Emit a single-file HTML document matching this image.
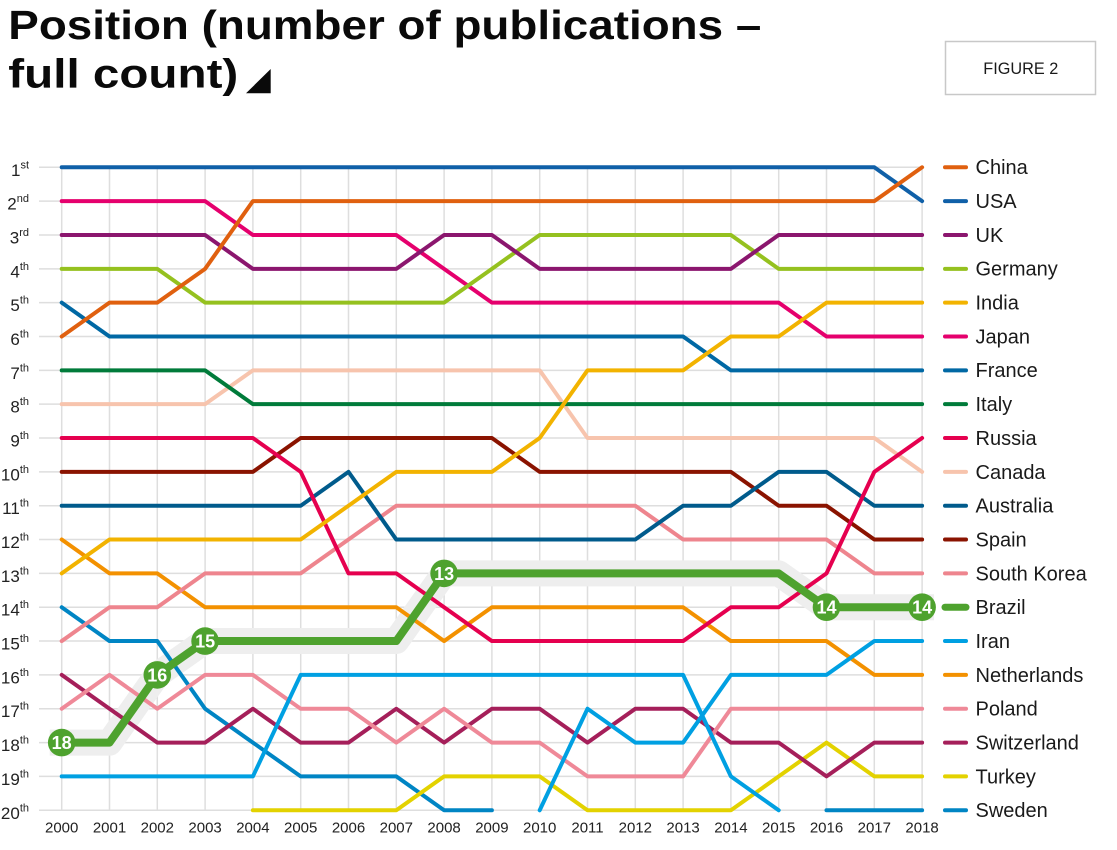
<!DOCTYPE html>
<html>
<head>
<meta charset="utf-8">
<style>
html,body{margin:0;padding:0;background:#fff;}
svg{display:block;}
text{font-family:"Liberation Sans",sans-serif;}
.s{fill:none;stroke-width:4;stroke-linejoin:round;stroke-linecap:round;vector-effect:non-scaling-stroke;}
</style>
</head>
<body>
<svg width="1117" height="850" viewBox="0 0 1117 850" xmlns="http://www.w3.org/2000/svg">
<rect width="1117" height="850" fill="#fff"/>
<!-- Title -->
<text x="8.3" y="39" font-size="41" font-weight="bold" fill="#0a0a0a" textLength="753" lengthAdjust="spacingAndGlyphs">Position (number of publications –</text>
<text x="8.3" y="87.3" font-size="41" font-weight="bold" fill="#0a0a0a" textLength="230" lengthAdjust="spacingAndGlyphs">full count)</text>
<polygon points="246,93.3 270.7,93.3 270.7,69" fill="#0a0a0a"/>
<!-- Figure box -->
<rect x="945.5" y="41.5" width="150" height="53" fill="none" stroke="#c8c8c8" stroke-width="1.5"/>
<text x="1020.8" y="74" font-size="17" fill="#1a1a1a" text-anchor="middle" textLength="75" lengthAdjust="spacingAndGlyphs">FIGURE 2</text>

<!-- Grid -->
<g stroke="#dedede" stroke-width="1.5">
<line x1="39" y1="167.3" x2="922.5" y2="167.3"/>
<line x1="39" y1="201.14" x2="922.5" y2="201.14"/>
<line x1="39" y1="234.98" x2="922.5" y2="234.98"/>
<line x1="39" y1="268.82" x2="922.5" y2="268.82"/>
<line x1="39" y1="302.66" x2="922.5" y2="302.66"/>
<line x1="39" y1="336.5" x2="922.5" y2="336.5"/>
<line x1="39" y1="370.34" x2="922.5" y2="370.34"/>
<line x1="39" y1="404.18" x2="922.5" y2="404.18"/>
<line x1="39" y1="438.02" x2="922.5" y2="438.02"/>
<line x1="39" y1="471.86" x2="922.5" y2="471.86"/>
<line x1="39" y1="505.7" x2="922.5" y2="505.7"/>
<line x1="39" y1="539.54" x2="922.5" y2="539.54"/>
<line x1="39" y1="573.38" x2="922.5" y2="573.38"/>
<line x1="39" y1="607.22" x2="922.5" y2="607.22"/>
<line x1="39" y1="641.06" x2="922.5" y2="641.06"/>
<line x1="39" y1="674.9" x2="922.5" y2="674.9"/>
<line x1="39" y1="708.74" x2="922.5" y2="708.74"/>
<line x1="39" y1="742.58" x2="922.5" y2="742.58"/>
<line x1="39" y1="776.42" x2="922.5" y2="776.42"/>
<line x1="39" y1="810.26" x2="922.5" y2="810.26"/>
<line x1="61.7" y1="167.3" x2="61.7" y2="810.3"/>
<line x1="109.5" y1="167.3" x2="109.5" y2="810.3"/>
<line x1="157.3" y1="167.3" x2="157.3" y2="810.3"/>
<line x1="205.1" y1="167.3" x2="205.1" y2="810.3"/>
<line x1="252.9" y1="167.3" x2="252.9" y2="810.3"/>
<line x1="300.7" y1="167.3" x2="300.7" y2="810.3"/>
<line x1="348.5" y1="167.3" x2="348.5" y2="810.3"/>
<line x1="396.3" y1="167.3" x2="396.3" y2="810.3"/>
<line x1="444.1" y1="167.3" x2="444.1" y2="810.3"/>
<line x1="491.9" y1="167.3" x2="491.9" y2="810.3"/>
<line x1="539.7" y1="167.3" x2="539.7" y2="810.3"/>
<line x1="587.5" y1="167.3" x2="587.5" y2="810.3"/>
<line x1="635.3" y1="167.3" x2="635.3" y2="810.3"/>
<line x1="683.1" y1="167.3" x2="683.1" y2="810.3"/>
<line x1="730.9" y1="167.3" x2="730.9" y2="810.3"/>
<line x1="778.7" y1="167.3" x2="778.7" y2="810.3"/>
<line x1="826.5" y1="167.3" x2="826.5" y2="810.3"/>
<line x1="874.3" y1="167.3" x2="874.3" y2="810.3"/>
<line x1="922.1" y1="167.3" x2="922.1" y2="810.3"/>
</g>

<!-- Y axis labels -->
<g font-size="17" fill="#222" text-anchor="end">
<text x="29" y="175.8">1<tspan font-size="11" dy="-7.5">st</tspan></text>
<text x="29" y="209.6">2<tspan font-size="11" dy="-7.5">nd</tspan></text>
<text x="29" y="243.5">3<tspan font-size="11" dy="-7.5">rd</tspan></text>
<text x="29" y="277.3">4<tspan font-size="11" dy="-7.5">th</tspan></text>
<text x="29" y="311.2">5<tspan font-size="11" dy="-7.5">th</tspan></text>
<text x="29" y="345">6<tspan font-size="11" dy="-7.5">th</tspan></text>
<text x="29" y="378.8">7<tspan font-size="11" dy="-7.5">th</tspan></text>
<text x="29" y="412.7">8<tspan font-size="11" dy="-7.5">th</tspan></text>
<text x="29" y="446.5">9<tspan font-size="11" dy="-7.5">th</tspan></text>
<text x="29" y="480.4">10<tspan font-size="11" dy="-7.5">th</tspan></text>
<text x="29" y="514.2">11<tspan font-size="11" dy="-7.5">th</tspan></text>
<text x="29" y="548">12<tspan font-size="11" dy="-7.5">th</tspan></text>
<text x="29" y="581.9">13<tspan font-size="11" dy="-7.5">th</tspan></text>
<text x="29" y="615.7">14<tspan font-size="11" dy="-7.5">th</tspan></text>
<text x="29" y="649.6">15<tspan font-size="11" dy="-7.5">th</tspan></text>
<text x="29" y="683.4">16<tspan font-size="11" dy="-7.5">th</tspan></text>
<text x="29" y="717.2">17<tspan font-size="11" dy="-7.5">th</tspan></text>
<text x="29" y="751.1">18<tspan font-size="11" dy="-7.5">th</tspan></text>
<text x="29" y="784.9">19<tspan font-size="11" dy="-7.5">th</tspan></text>
<text x="29" y="818.8">20<tspan font-size="11" dy="-7.5">th</tspan></text>
</g>

<!-- X axis labels -->
<g font-size="15" fill="#222" text-anchor="middle">
<text x="61.7" y="832.6">2000</text>
<text x="109.5" y="832.6">2001</text>
<text x="157.3" y="832.6">2002</text>
<text x="205.1" y="832.6">2003</text>
<text x="252.9" y="832.6">2004</text>
<text x="300.7" y="832.6">2005</text>
<text x="348.5" y="832.6">2006</text>
<text x="396.3" y="832.6">2007</text>
<text x="444.1" y="832.6">2008</text>
<text x="491.9" y="832.6">2009</text>
<text x="539.7" y="832.6">2010</text>
<text x="587.5" y="832.6">2011</text>
<text x="635.3" y="832.6">2012</text>
<text x="683.1" y="832.6">2013</text>
<text x="730.9" y="832.6">2014</text>
<text x="778.7" y="832.6">2015</text>
<text x="826.5" y="832.6">2016</text>
<text x="874.3" y="832.6">2017</text>
<text x="922.1" y="832.6">2018</text>
</g>

<!-- Series in data space: x=index, y=rank -->
<g transform="matrix(47.8 0 0 33.84 61.7 133.46)">
<!-- Brazil shadow band -->
<polyline fill="none" stroke="#eeeeee" stroke-width="26" stroke-linejoin="round" stroke-linecap="butt" vector-effect="non-scaling-stroke" points="-0.25,18 1,18 2,16 3,15 4,15 5,15 6,15 7,15 8,13 9,13 10,13 11,13 12,13 13,13 14,13 15,13 16,14 17,14 18.25,14"/>

<polyline class="s" stroke="#0085c4" points="0,14 1,15 2,15 3,17 4,18 5,19 6,19 7,19 8,20 9,20"/>
<polyline class="s" stroke="#0085c4" points="16,20 17,20 18,20"/>
<polyline class="s" stroke="#e3d200" points="4,20 5,20 6,20 7,20 8,19 9,19 10,19 11,20 12,20 13,20 14,20 15,19 16,18 17,19 18,19"/>
<polyline class="s" stroke="#a51f5a" points="0,16 1,17 2,18 3,18 4,17 5,18 6,18 7,17 8,18 9,17 10,17 11,18 12,17 13,17 14,18 15,18 16,19 17,18 18,18"/>
<polyline class="s" stroke="#ef8998" points="0,17 1,16 2,17 3,16 4,16 5,17 6,17 7,18 8,17 9,18 10,18 11,19 12,19 13,19 14,17 15,17 16,17 17,17 18,17"/>
<polyline class="s" stroke="#f39100" points="0,12 1,13 2,13 3,14 4,14 5,14 6,14 7,14 8,15 9,14 10,14 11,14 12,14 13,14 14,15 15,15 16,15 17,16 18,16"/>
<polyline class="s" stroke="#00a0e2" points="0,19 1,19 2,19 3,19 4,19 5,16 6,16 7,16 8,16 9,16 10,16 11,16 12,16 13,16 14,19 15,20"/>
<polyline class="s" stroke="#00a0e2" points="10,20 11,17 12,18 13,18 14,16 15,16 16,16 17,15 18,15"/>
<polyline class="s" stroke="#ee858e" points="0,15 1,14 2,14 3,13 4,13 5,13 6,12 7,11 8,11 9,11 10,11 11,11 12,11 13,12 14,12 15,12 16,12 17,13 18,13"/>
<polyline class="s" stroke="#8a1300" points="0,10 1,10 2,10 3,10 4,10 5,9 6,9 7,9 8,9 9,9 10,10 11,10 12,10 13,10 14,10 15,11 16,11 17,12 18,12"/>
<polyline class="s" stroke="#005b8c" points="0,11 1,11 2,11 3,11 4,11 5,11 6,10 7,12 8,12 9,12 10,12 11,12 12,12 13,11 14,11 15,10 16,10 17,11 18,11"/>
<polyline class="s" stroke="#f7c4ad" points="0,8 1,8 2,8 3,8 4,7 5,7 6,7 7,7 8,7 9,7 10,7 11,9 12,9 13,9 14,9 15,9 16,9 17,9 18,10"/>
<polyline class="s" stroke="#e5004f" points="0,9 1,9 2,9 3,9 4,9 5,10 6,13 7,13 8,14 9,15 10,15 11,15 12,15 13,15 14,14 15,14 16,13 17,10 18,9"/>
<polyline class="s" stroke="#007b3a" points="0,7 1,7 2,7 3,7 4,8 5,8 6,8 7,8 8,8 9,8 10,8 11,8 12,8 13,8 14,8 15,8 16,8 17,8 18,8"/>
<polyline class="s" stroke="#0068a4" points="0,5 1,6 2,6 3,6 4,6 5,6 6,6 7,6 8,6 9,6 10,6 11,6 12,6 13,6 14,7 15,7 16,7 17,7 18,7"/>
<polyline class="s" stroke="#e5006d" points="0,2 1,2 2,2 3,2 4,3 5,3 6,3 7,3 8,4 9,5 10,5 11,5 12,5 13,5 14,5 15,5 16,6 17,6 18,6"/>
<polyline class="s" stroke="#f2b300" points="0,13 1,12 2,12 3,12 4,12 5,12 6,11 7,10 8,10 9,10 10,9 11,7 12,7 13,7 14,6 15,6 16,5 17,5 18,5"/>
<polyline class="s" stroke="#95c11f" points="0,4 1,4 2,4 3,5 4,5 5,5 6,5 7,5 8,5 9,4 10,3 11,3 12,3 13,3 14,3 15,4 16,4 17,4 18,4"/>
<polyline class="s" stroke="#8b166e" points="0,3 1,3 2,3 3,3 4,4 5,4 6,4 7,4 8,3 9,3 10,4 11,4 12,4 13,4 14,4 15,3 16,3 17,3 18,3"/>
<polyline class="s" stroke="#1060a8" points="0,1 1,1 2,1 3,1 4,1 5,1 6,1 7,1 8,1 9,1 10,1 11,1 12,1 13,1 14,1 15,1 16,1 17,1 18,2"/>
<polyline class="s" stroke="#e0600f" points="0,6 1,5 2,5 3,4 4,2 5,2 6,2 7,2 8,2 9,2 10,2 11,2 12,2 13,2 14,2 15,2 16,2 17,2 18,1"/>
<!-- Brazil -->
<polyline class="s" stroke="#4ea22e" style="stroke-width:8" points="0,18 1,18 2,16 3,15 4,15 5,15 6,15 7,15 8,13 9,13 10,13 11,13 12,13 13,13 14,13 15,13 16,14 17,14 18,14"/>
</g>

<!-- Brazil labels -->
<g fill="#4ea22e">
<circle cx="61.7" cy="742.6" r="13.8"/>
<circle cx="157.3" cy="674.9" r="13.8"/>
<circle cx="205.1" cy="641.1" r="13.8"/>
<circle cx="444.1" cy="573.4" r="13.8"/>
<circle cx="826.5" cy="607.2" r="13.8"/>
<circle cx="922.1" cy="607.2" r="13.8"/>
</g>
<g fill="#fff" font-size="18" font-weight="bold" text-anchor="middle">
<text x="61.7" y="749.1">18</text>
<text x="157.3" y="681.4">16</text>
<text x="205.1" y="647.6">15</text>
<text x="444.1" y="579.9">13</text>
<text x="826.5" y="613.7">14</text>
<text x="922.1" y="613.7">14</text>
</g>

<!-- Legend -->
<g stroke-width="4" stroke-linecap="round">
<line x1="945" x2="966" y1="167.3" y2="167.3" stroke="#e0600f"/>
<line x1="945" x2="966" y1="201.14" y2="201.14" stroke="#1060a8"/>
<line x1="945" x2="966" y1="234.98" y2="234.98" stroke="#8b166e"/>
<line x1="945" x2="966" y1="268.82" y2="268.82" stroke="#95c11f"/>
<line x1="945" x2="966" y1="302.66" y2="302.66" stroke="#f2b300"/>
<line x1="945" x2="966" y1="336.5" y2="336.5" stroke="#e5006d"/>
<line x1="945" x2="966" y1="370.34" y2="370.34" stroke="#0068a4"/>
<line x1="945" x2="966" y1="404.18" y2="404.18" stroke="#007b3a"/>
<line x1="945" x2="966" y1="438.02" y2="438.02" stroke="#e5004f"/>
<line x1="945" x2="966" y1="471.86" y2="471.86" stroke="#f7c4ad"/>
<line x1="945" x2="966" y1="505.7" y2="505.7" stroke="#005b8c"/>
<line x1="945" x2="966" y1="539.54" y2="539.54" stroke="#8a1300"/>
<line x1="945" x2="966" y1="573.38" y2="573.38" stroke="#ee858e"/>
<line x1="945" x2="966" y1="607.22" y2="607.22" stroke="#4ea22e" stroke-width="7"/>
<line x1="945" x2="966" y1="641.06" y2="641.06" stroke="#00a0e2"/>
<line x1="945" x2="966" y1="674.9" y2="674.9" stroke="#f39100"/>
<line x1="945" x2="966" y1="708.74" y2="708.74" stroke="#ef8998"/>
<line x1="945" x2="966" y1="742.58" y2="742.58" stroke="#a51f5a"/>
<line x1="945" x2="966" y1="776.42" y2="776.42" stroke="#e3d200"/>
<line x1="945" x2="966" y1="810.26" y2="810.26" stroke="#0085c4"/>
</g>
<g font-size="20" fill="#1a1a1a">
<text x="975.5" y="174.2">China</text>
<text x="975.5" y="208">USA</text>
<text x="975.5" y="241.9">UK</text>
<text x="975.5" y="275.7">Germany</text>
<text x="975.5" y="309.6">India</text>
<text x="975.5" y="343.4">Japan</text>
<text x="975.5" y="377.2">France</text>
<text x="975.5" y="411.1">Italy</text>
<text x="975.5" y="444.9">Russia</text>
<text x="975.5" y="478.8">Canada</text>
<text x="975.5" y="512.6">Australia</text>
<text x="975.5" y="546.4">Spain</text>
<text x="975.5" y="580.3">South Korea</text>
<text x="975.5" y="614.1">Brazil</text>
<text x="975.5" y="648">Iran</text>
<text x="975.5" y="681.8">Netherlands</text>
<text x="975.5" y="715.6">Poland</text>
<text x="975.5" y="749.5">Switzerland</text>
<text x="975.5" y="783.3">Turkey</text>
<text x="975.5" y="817.2">Sweden</text>
</g>
</svg>
</body>
</html>
